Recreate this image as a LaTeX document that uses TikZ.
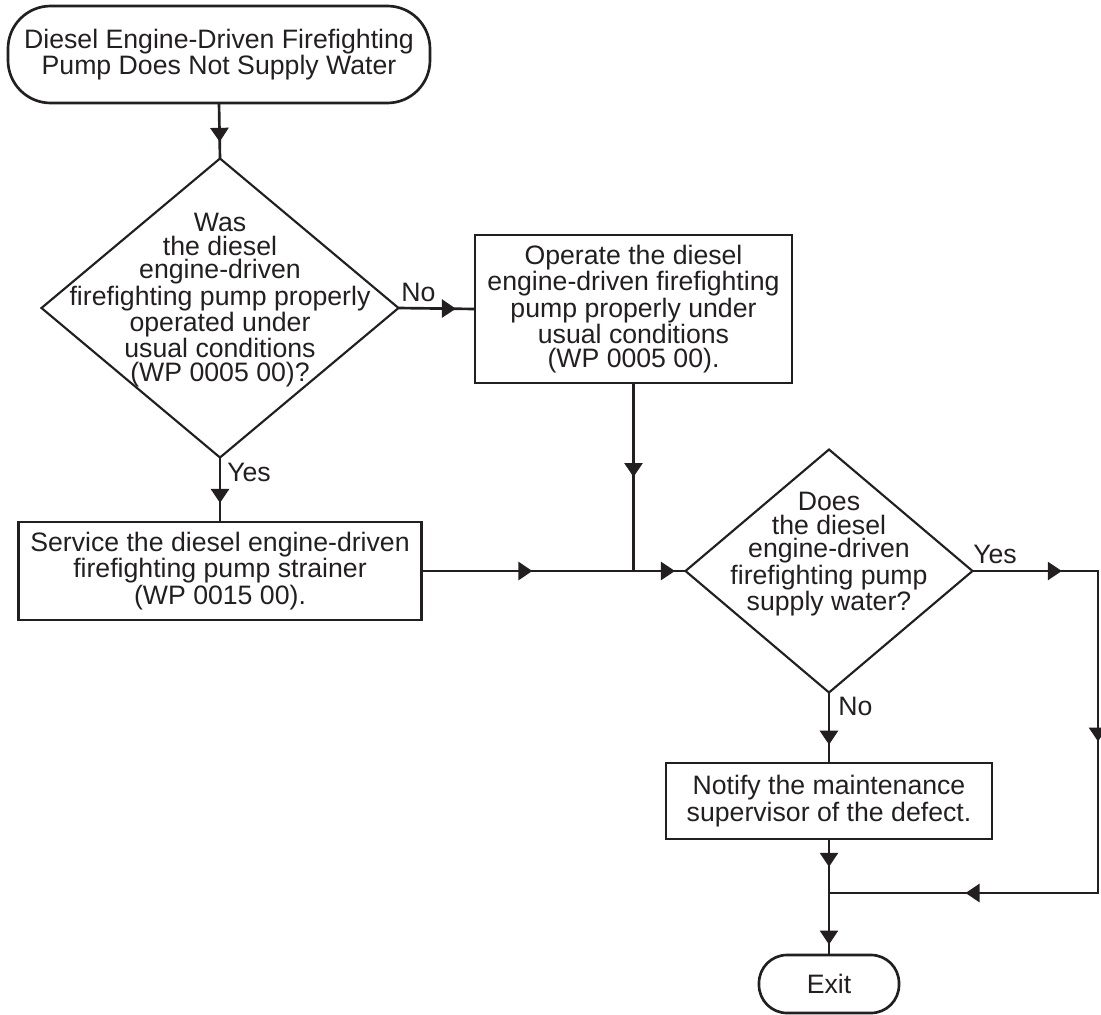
\documentclass[tikz,border=0pt]{standalone}
\usepackage{fontspec}
\setmainfont{Liberation Sans}
\usetikzlibrary{shapes.geometric,arrows.meta,decorations.markings}

\definecolor{ink}{HTML}{231F20}

\begin{document}
\begin{tikzpicture}[
  x=0.75pt, y=-0.75pt,
  >={Triangle[length=10.5pt,width=13.5pt]},
  every node/.style={font=\fontsize{20}{17.75}\selectfont, text=ink},
  terminal/.style={draw=ink, rounded corners=#1, line width=2pt, outer sep=0pt, inner sep=0pt, align=center},
  action/.style={draw=ink, rectangle, line width=2.2pt, outer sep=0pt, inner sep=2pt, align=center},
  decision/.style={draw=ink, diamond, line width=1.6pt, outer sep=0pt, inner sep=0pt},
  question/.style={align=center, inner sep=0pt},
  lbl/.style={inner sep=0pt, anchor=base west},
  flow/.style={draw=ink, line width=2pt},
  midarrow/.style={postaction={decorate,decoration={markings,mark=at position #1 with {\arrow[ink]{>}}}}}
  ]
  \useasboundingbox (0,0) rectangle (1101,1015);

  % start and end
  \node[terminal=32pt, minimum width=316.5pt, minimum height=72.75pt,
        font=\fontsize{20}{16}\selectfont] (start) at (219,54.5)
        {Diesel Engine-Driven Firefighting\\Pump Does Not Supply Water};
  \node[terminal=21pt, minimum width=105pt, minimum height=43.5pt] (exit) at (829,984) {Exit};

  % first question
  \node[decision, minimum width=267.75pt, minimum height=224.25pt] (ask1) at (220,308) {};
  \node[question] (ask1text) at (220,300)
        {Was\\the diesel\\engine-driven\\firefighting pump properly\\operated under\\usual conditions\\(WP 0005 00)?};

  \node[action, minimum width=237.75pt, minimum height=111pt] (operate) at (633.5,309)
        {Operate the diesel\\engine-driven firefighting\\pump properly under\\usual conditions\\(WP 0005 00).};
  \node[action, minimum width=302.25pt, minimum height=73.5pt] (service) at (220,571)
        {Service the diesel engine-driven\\firefighting pump strainer\\(WP 0015 00).};

  % second question
  \node[decision, minimum width=215.25pt, minimum height=182.25pt] (ask2) at (829,571) {};
  \node[question] (ask2text) at (829,554)
        {Does\\the diesel\\engine-driven\\firefighting pump\\supply water?};

  \node[action, minimum width=244.5pt, minimum height=57pt] (notify) at (829,801)
        {Notify the maintenance\\supervisor of the defect.};

  % answers
  \node[lbl] (no1) at (401,301) {No};
  \node[lbl] (yes1) at (227,481) {Yes};
  \node[lbl] (yes2) at (973,563) {Yes};
  \node[lbl] (no2) at (838,715) {No};

  % bends and joins
  \coordinate (join) at (operate.south |- service.east);
  \coordinate (yesturn) at (1098,571);
  \coordinate (yesdown) at (1098,893);
  \coordinate (merge) at (829,893);

  \path[flow, midarrow=0.70] (start.south) -- (ask1.north);
  \path[flow, midarrow=0.75] (ask1.east) -- (operate.west);
  \path[flow, midarrow=0.705] (ask1.south) -- (service.north);
  \path[flow, midarrow=0.5] (operate.south) -- (join);
  \path[flow, midarrow=0.42, midarrow=0.96] (service.east) -- (ask2.west);
  \path[flow, midarrow=67pt, midarrow=222pt, midarrow=435pt]
        (ask2.east) -- (yesturn) -- (yesdown) -- (merge);
  \path[flow, midarrow=0.74] (ask2.south) -- (notify.north);
  \path[flow, midarrow=0.24, midarrow=0.91] (notify.south) -- (exit.north);
\end{tikzpicture}
\end{document}
